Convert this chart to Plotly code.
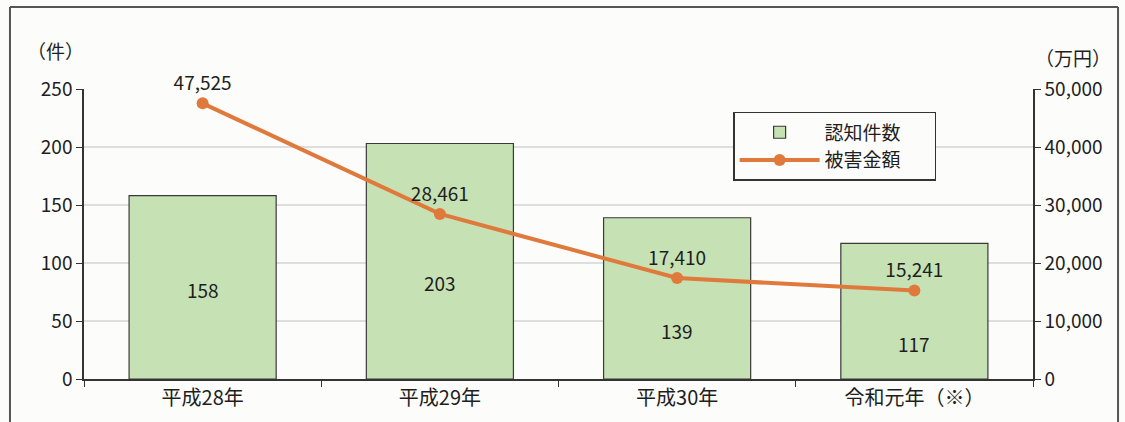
import plotly.graph_objects as go

categories = ["平成28年", "平成29年", "平成30年", "令和元年（※）"]
cases = [158, 203, 139, 117]
damage = [47525, 28461, 17410, 15241]
left_ticks = [0, 50, 100, 150, 200, 250]
right_ticks = [0, 10000, 20000, 30000, 40000, 50000]

# label placement for the bar counts (styling, in left-axis units)
case_label_y = [77, 83, 42, 31]

FONT = "Noto Sans CJK JP"
BAR_FILL = "#c6e2b5"
BAR_LINE = "#3a3a3a"
LINE_COLOR = "#e07a3c"
TXT = "#1e1e1e"
PAD = "\u3000\u2002"

fig = go.Figure()
fig.add_trace(go.Bar(
    x=categories, y=cases, name="認知件数" + PAD,
    marker=dict(color=BAR_FILL, line=dict(color=BAR_LINE, width=1.2)),
    width=0.62, yaxis="y",
))
fig.add_trace(go.Scatter(
    x=categories, y=damage, name="被害金額" + PAD, yaxis="y2",
    mode="lines+markers+text",
    line=dict(color=LINE_COLOR, width=4),
    marker=dict(color=LINE_COLOR, size=12),
    text=[f"{v:,}" for v in damage], textposition="top center",
    textfont=dict(size=19, color=TXT), cliponaxis=False,
))

for c, v, ly in zip(categories, cases, case_label_y):
    fig.add_annotation(x=c, y=ly, xref="x", yref="y", text=str(v),
                       showarrow=False, font=dict(size=19, color=TXT))

fig.add_annotation(x=-0.03, y=1.134, xref="paper", yref="paper", text="（件）",
                   xanchor="center", yanchor="middle",
                   showarrow=False, font=dict(size=19, color=TXT))
fig.add_annotation(x=1.042, y=1.107, xref="paper", yref="paper", text="（万円）",
                   xanchor="center", yanchor="middle",
                   showarrow=False, font=dict(size=19, color=TXT))

# outer frame
frame = dict(color="#555", width=2)
fig.add_shape(type="line", xref="paper", yref="paper", x0=-0.078, x1=-0.078, y0=-0.3, y1=1.283, line=frame, layer="above")
fig.add_shape(type="line", xref="paper", yref="paper", x0=1.0896, x1=1.0896, y0=-0.3, y1=1.283, line=frame, layer="above")
fig.add_shape(type="line", xref="paper", yref="paper", x0=-0.078, x1=1.0896, y0=1.283, y1=1.283, line=frame, layer="above")

fig.update_layout(
    width=1125, height=422,
    margin=dict(l=84, r=92, t=89, b=43),
    paper_bgcolor="#fcfcfa", plot_bgcolor="#fcfcfa",
    font=dict(family=FONT, size=19, color=TXT),
    showlegend=True,
    legend=dict(x=0.684, y=0.921, xanchor="left", yanchor="top",
                bordercolor="#333", borderwidth=1.5, bgcolor="#fcfcfa",
                font=dict(size=19), traceorder="normal",
                itemwidth=80, tracegroupgap=0),
    xaxis=dict(type="category", tickson="boundaries", ticks="outside", ticklen=6,
               tickcolor="#333", showline=True, linecolor="#333", linewidth=1.5,
               showgrid=False, tickfont=dict(size=20), automargin=False),
    yaxis=dict(range=[0, 250], tickvals=left_ticks, ticks="outside", ticklen=6,
               tickcolor="#333", showline=True, linecolor="#333", linewidth=1.5,
               gridcolor="#dedede", gridwidth=1.5, zeroline=False, ticksuffix="  ",
               automargin=False),
    yaxis2=dict(range=[0, 50000], tickvals=right_ticks, tickformat=",",
                overlaying="y", side="right", ticks="outside", ticklen=6,
                tickcolor="#333", showline=True, linecolor="#333", linewidth=1.5,
                showgrid=False, zeroline=False, tickprefix="  ", automargin=False),
)

fig.write_html("out.html", config={"displayModeBar": False},
               post_script="document.body.style.margin='0';document.body.style.overflow='hidden';")
